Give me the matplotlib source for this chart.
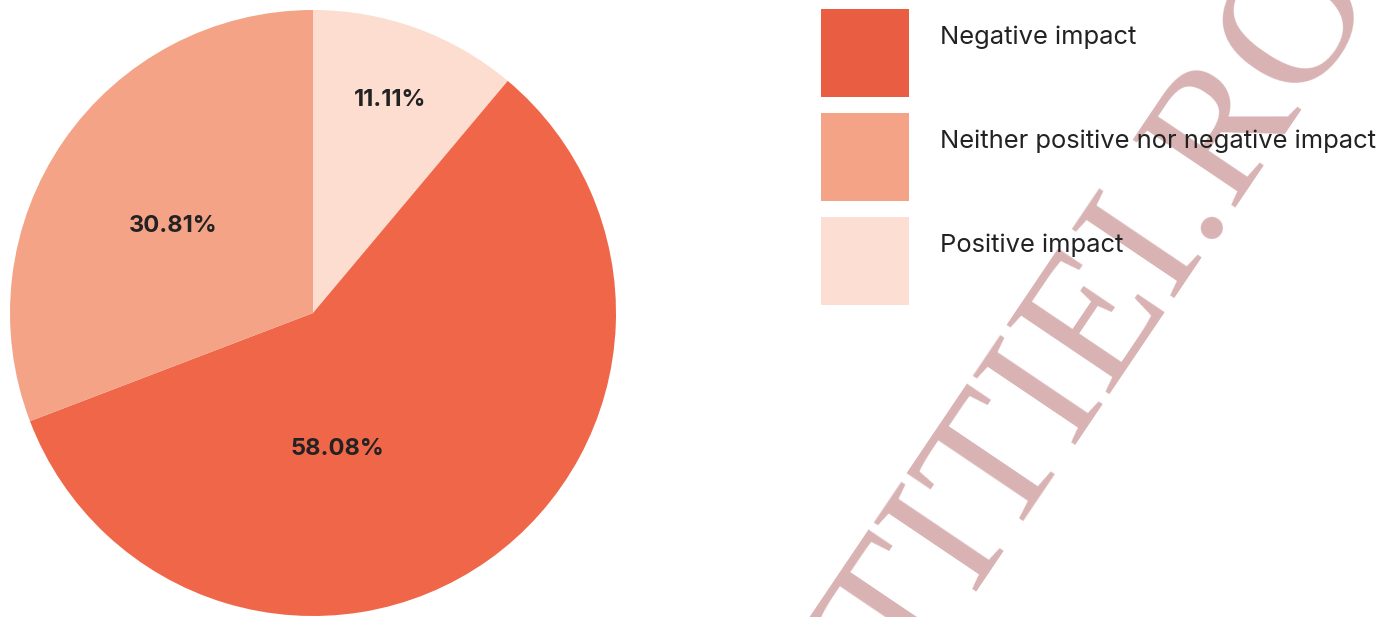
import matplotlib
matplotlib.use("Agg")
import matplotlib.pyplot as plt
from matplotlib.patches import Rectangle

# slices in drawing order (clockwise from 12 o'clock)
labels = ["Positive impact", "Negative impact", "Neither positive nor negative impact"]
shares = [11.11, 58.08, 30.81]
slice_colors = ["#FCDDD0", "#F06649", "#F4A386"]

# legend order
legend_labels = ["Negative impact", "Neither positive nor negative impact", "Positive impact"]
legend_colors = ["#E95D42", "#F4A386", "#FCDED2"]

# where the percentage labels sit (pie units, radius 1)
label_pos = [(0.254, 0.703), (0.079, -0.449), (-0.462, 0.287)]

W, H, DPI = 1399, 617, 100
fig = plt.figure(figsize=(W / DPI, H / DPI), dpi=DPI)

# pie
ax = fig.add_axes([10 / W, 1 / H, 606 / W, 606 / H])
ax.pie(shares, colors=slice_colors, startangle=90, counterclock=False,
       wedgeprops=dict(linewidth=0))
ax.set_xlim(-1, 1)
ax.set_ylim(-1, 1)
ax.set_aspect("equal")
for v, (x, y) in zip(shares, label_pos):
    ax.text(x, y, f"{v:.2f}%", ha="center", va="center", fontsize=17,
            fontweight="bold", color="#222222", family="Inter")

# legend + watermark drawn in pixel space
lax = fig.add_axes([0, 0, 1, 1], zorder=-1)
lax.set_xlim(0, W)
lax.set_ylim(H, 0)
lax.axis("off")

lax.text(1105, 315, "TITIEI.RO", rotation=56, rotation_mode="anchor",
         ha="center", va="center", fontsize=135, color="#D9B3B4",
         family="Liberation Serif", zorder=1, clip_on=True)

top = 9
for i, (lab, col) in enumerate(zip(legend_labels, legend_colors)):
    y0 = top + i * 104
    lax.add_patch(Rectangle((821, y0), 88, 88, facecolor=col, edgecolor="none", zorder=2))
    lax.text(940, y0 + 28, lab, ha="left", va="center", fontsize=18.4,
             color="#222222", family="Inter", zorder=3)

fig.savefig("out.png", dpi=DPI)
